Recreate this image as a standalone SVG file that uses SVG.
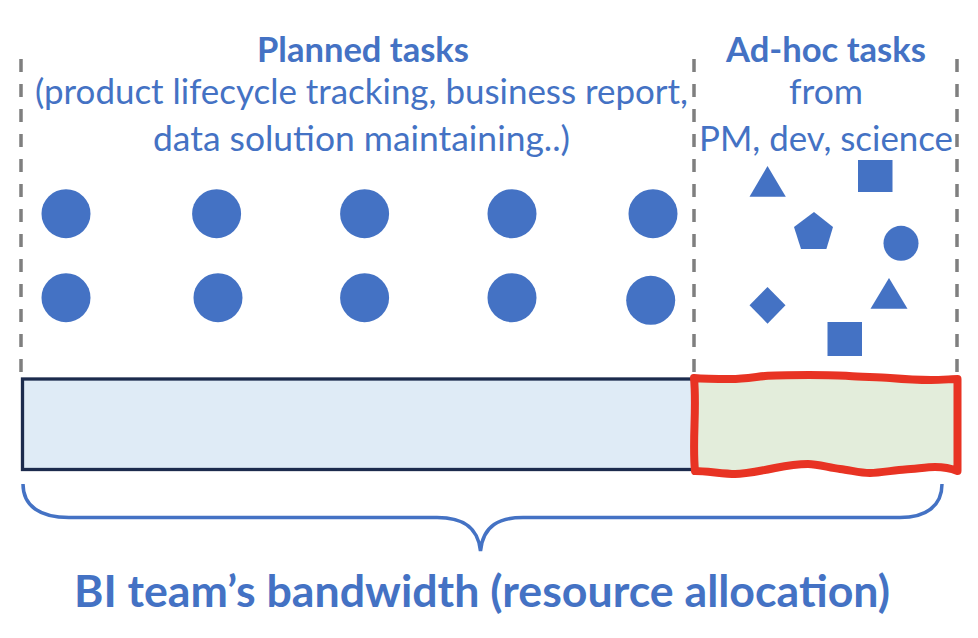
<svg xmlns="http://www.w3.org/2000/svg" width="978" height="638" viewBox="0 0 978 638">
  <style>
    .t { font-family: Lato, "Liberation Sans", "DejaVu Sans", sans-serif; fill: #4472c4; text-anchor: middle; }
    .n { font-size: 34px; font-weight: normal; }
    .b { font-size: 35px; font-weight: bold; }
    .big { font-size: 43px; font-weight: bold; }
    .dash { stroke: #7f7f7f; stroke-width: 3.5; stroke-dasharray: 13 12; fill: none; }
    .shape { fill: #4472c4; }
    .brace { fill: none; stroke: #4472c4; stroke-width: 3.5; }
  </style>
  <rect width="978" height="638" fill="#ffffff"/>

  <g id="guides">
    <line class="dash" x1="21" y1="59" x2="21" y2="376"/>
    <line class="dash" x1="694" y1="59" x2="694" y2="376"/>
    <line class="dash" x1="957" y1="59" x2="957" y2="376"/>
  </g>

  <g id="planned-label">
    <text class="t b" x="363" y="62" textLength="212" lengthAdjust="spacingAndGlyphs">Planned tasks</text>
    <text class="t n" x="361.5" y="104" textLength="653" lengthAdjust="spacingAndGlyphs">(product lifecycle tracking, business report,</text>
    <text class="t n" x="361.5" y="151" textLength="417" lengthAdjust="spacingAndGlyphs">data solution maintaining..)</text>
  </g>

  <g id="adhoc-label">
    <text class="t b" x="826" y="62" textLength="200" lengthAdjust="spacingAndGlyphs">Ad-hoc tasks</text>
    <text class="t n" x="826" y="104" textLength="74" lengthAdjust="spacingAndGlyphs">from</text>
    <text class="t n" x="826" y="151" textLength="254" lengthAdjust="spacingAndGlyphs">PM, dev, science</text>
  </g>

  <g id="planned-tasks">
    <circle class="shape" cx="66" cy="213.7" r="24.5"/>
    <circle class="shape" cx="216.6" cy="213.7" r="24.5"/>
    <circle class="shape" cx="364.6" cy="213.7" r="24.5"/>
    <circle class="shape" cx="512" cy="213.7" r="24.5"/>
    <circle class="shape" cx="653" cy="213.7" r="24.5"/>
    <circle class="shape" cx="66" cy="297.7" r="24.5"/>
    <circle class="shape" cx="218" cy="297.7" r="24.5"/>
    <circle class="shape" cx="364.6" cy="297.7" r="24.5"/>
    <circle class="shape" cx="512" cy="297.7" r="24.5"/>
    <circle class="shape" cx="650.7" cy="300.3" r="24.5"/>
  </g>

  <g id="adhoc-tasks">
    <polygon class="shape" points="767.5,166 785.8,196.7 749.5,196.7"/>
    <rect class="shape" x="858" y="160" width="34.5" height="32"/>
    <polygon class="shape" points="814,212 833,227 826.4,249 801,249 794,227"/>
    <circle class="shape" cx="901" cy="243.3" r="17.5"/>
    <polygon class="shape" points="767.5,287 785.5,305.3 767.5,323.7 749.5,305.3"/>
    <polygon class="shape" points="889,278 907.5,308.7 870.5,308.7"/>
    <rect class="shape" x="827.5" y="322" width="34.5" height="34"/>
  </g>

  <g id="planned-bar">
    <rect x="22.5" y="379" width="677" height="90.5" fill="#dfebf6" stroke="#1c2b4d" stroke-width="3.3"/>
  </g>

  <g id="adhoc-bar">
    <path d="M 694 378 C 705 379, 720 379, 731 379 S 755 377, 765 376 S 795 375, 809 375 S 838 375, 849 376 S 878 377, 890 378 S 920 380, 931 380 S 952 379, 957.5 379 L 957.5 471 C 950 468, 943 467, 935 467 S 915 469, 905 469.5 S 880 473, 870 473 S 850 470, 840 469 S 818 464, 808 464 S 785 466, 775 468 S 745 474, 735 474 S 705 471, 695 471 C 692 440, 697 410, 694 378 Z" fill="#e3eddb" stroke="#e83323" stroke-width="8" stroke-linejoin="round"/>
  </g>

  <g id="bandwidth-brace">
    <path class="brace" d="M 23 484 C 23 506, 40 517.5, 69 517.5 L 437 517.5 C 460 517.5, 478 525, 480.5 551 C 483 525, 500 517.5, 523 517.5 L 900 517.5 C 926 517.5, 942 506, 942 484"/>
  </g>

  <g id="bandwidth-label">
    <text class="t big" x="482" y="607" textLength="816" lengthAdjust="spacingAndGlyphs">BI team’s bandwidth (resource allocation)</text>
  </g>
</svg>
